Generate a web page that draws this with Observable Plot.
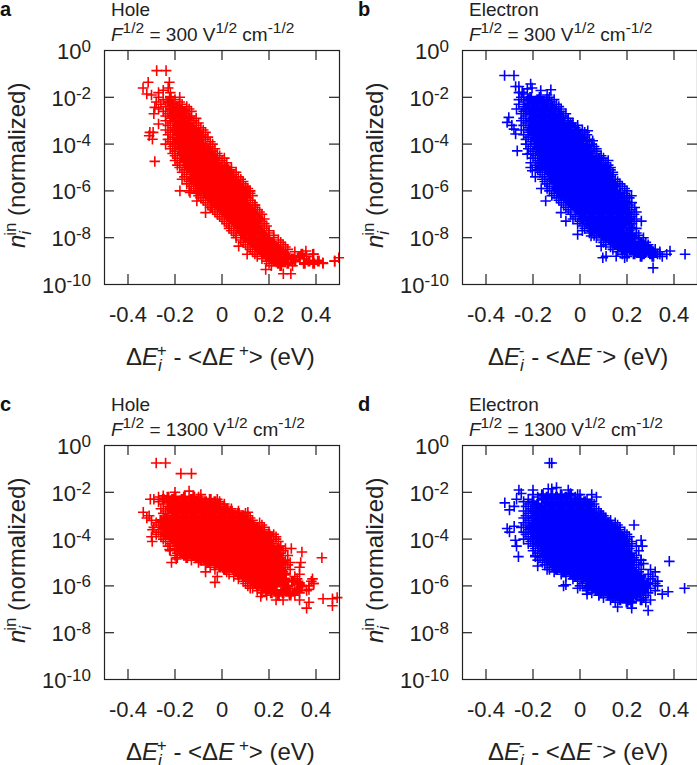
<!DOCTYPE html>
<html><head><meta charset="utf-8">
<script src="https://cdn.jsdelivr.net/npm/d3@7"></script>
<script src="https://cdn.jsdelivr.net/npm/@observablehq/plot@0.6"></script>
<style>html,body{margin:0;padding:0;background:#fff;overflow:hidden}#root{position:relative;width:697px;height:765px;overflow:hidden}#root>div{position:absolute}svg{overflow:visible;display:block}</style>
</head><body><div id="root"></div>
<script>
const xTicks=[-.4,-.2,0,.2,.4];
const yExponents=[0,-2,-4,-6,-8,-10];
const yInnerExponents=[-2,-4,-6,-8];
// rows: [log10(y), x, x, ...]; *Out: [x, log10(y)] stray points
const holeLow=[
[-2,-.27,-.22,-.18],[-2.1,-.25,-.2],[-2.2,-.28,-.23,-.18],[-2.3,-.26,-.21,-.17],[-2.4,-.24,-.19,-.15],
[-2.5,-.27,-.22,-.18,-.14],[-2.6,-.25,-.2,-.16,-.13],[-2.7,-.23,-.19,-.15],[-2.8,-.24,-.21,-.17,-.13],[-2.9,-.22,-.18,-.14,-.11],
[-3,-.24,-.2,-.16,-.12],[-3.1,-.22,-.18,-.14,-.1],[-3.2,-.23,-.19,-.15,-.11],[-3.3,-.21,-.17,-.13,-.09],[-3.4,-.24,-.2,-.16,-.12,-.08],
[-3.5,-.22,-.18,-.14,-.1,-.07],[-3.6,-.23,-.19,-.15,-.11,-.08],[-3.7,-.21,-.17,-.13,-.09,-.06],[-3.8,-.23,-.19,-.15,-.11,-.07],[-3.9,-.22,-.18,-.14,-.1,-.05],
[-4,-.24,-.2,-.16,-.12,-.08,-.04],[-4.1,-.21,-.17,-.13,-.09,-.05],[-4.2,-.22,-.18,-.14,-.1,-.06,-.03],[-4.3,-.2,-.16,-.12,-.08,-.04],[-4.4,-.21,-.17,-.13,-.09,-.05,-.02],
[-4.5,-.2,-.16,-.12,-.08,-.04,-.01],[-4.6,-.19,-.15,-.11,-.07,-.03,.01],[-4.7,-.2,-.16,-.12,-.08,-.04,0],[-4.8,-.18,-.14,-.1,-.06,-.02,.02],[-4.9,-.19,-.15,-.11,-.07,-.03,.01],
[-5,-.18,-.14,-.1,-.06,-.02,.02,.04],[-5.1,-.16,-.12,-.08,-.04,0,.04],[-5.2,-.17,-.13,-.09,-.05,-.01,.03,.06],[-5.3,-.15,-.11,-.07,-.03,.01,.05],[-5.4,-.16,-.12,-.08,-.04,0,.04,.07],
[-5.5,-.17,-.13,-.09,-.05,-.01,.03,.08],[-5.6,-.14,-.1,-.06,-.02,.02,.06,.09],[-5.7,-.15,-.11,-.07,-.03,.01,.05,.09],[-5.8,-.13,-.09,-.05,-.01,.03,.07,.1],[-5.9,-.12,-.08,-.04,0,.04,.08,.11],
[-6,-.14,-.1,-.06,-.02,.02,.06,.1,.12],[-6.1,-.11,-.07,-.03,.01,.05,.09,.12],[-6.2,-.1,-.06,-.02,.02,.06,.1,.13],[-6.3,-.09,-.05,-.01,.03,.07,.11],[-6.4,-.08,-.04,0,.04,.08,.12],
[-6.5,-.07,-.03,.01,.05,.09,.13],[-6.6,-.06,-.02,.02,.06,.1,.14],[-6.7,-.05,-.01,.03,.07,.11,.14],[-6.8,-.04,0,.04,.08,.12,.15],[-6.9,-.03,.01,.05,.09,.13,.16],
[-7,-.02,.02,.06,.1,.14,.17],[-7.1,-.01,.03,.07,.11,.15],[-7.2,0,.04,.08,.12,.16,.18],[-7.3,.01,.05,.09,.13,.17],[-7.4,.02,.06,.1,.14,.18],
[-7.5,.03,.07,.11,.15,.19],[-7.6,.03,.07,.11,.15,.18],[-7.7,.04,.08,.12,.16,.2],[-7.8,.05,.09,.13,.17,.2],[-7.9,.06,.1,.14,.18,.22],
[-8,.06,.1,.14,.18,.22],[-8.1,.08,.12,.16,.2,.24],[-8.2,.09,.13,.17,.21,.25],[-8.3,.1,.14,.18,.22,.26],[-8.4,.11,.15,.19,.23,.27],
[-8.5,.12,.16,.2,.24,.28],[-8.6,.13,.17,.21,.25,.31],[-8.7,.14,.18,.22,.27,.34,.39],[-8.8,.15,.19,.23,.28,.33,.36],[-8.9,.17,.21,.25,.3,.35],
[-9,.19,.22,.26,.31,.37,.41,.48],[-9.1,.2,.24,.28,.35,.39,.43],[-9.2,.21,.25,.3]
];
const holeLowOut=[[-.278,-.86],[-.238,-.86],[-.314,-1.36],[-.224,-1.36],[-.336,-1.6],[-.229,-1.6],[-.32,-1.86],[-.25,-1.7],[-.27,-1.8],[-.22,-1.8],[-.3,-1.9],[-.286,-4.74],[-.179,-6],[-.307,-3.5],[-.293,-3.5],[-.296,-3.79],[-.31,-3.64],[-.27,-3.14],[-.286,-2.43],[-.29,-2.7],[-.107,-6.43],[-.07,-6.93],[-.043,-6.71],[-.136,-6.07],[.186,-9.36],[.261,-9.54],[.293,-9.54],[.497,-8.86],[.479,-9],[.429,-9.07],[.357,-8.57],[.386,-8.71],[.071,-8.36],[.107,-8.71],[.115,-6],[.14,-6.6]];
const electronLow=[
[-2,-.25,-.21,-.17,-.13],[-2.1,-.26,-.22,-.18,-.14,-.11],[-2.2,-.24,-.2,-.16,-.12],[-2.3,-.26,-.22,-.18,-.14,-.1],[-2.4,-.24,-.2,-.16,-.12,-.09],
[-2.5,-.27,-.23,-.19,-.15,-.11,-.08],[-2.6,-.24,-.2,-.16,-.12,-.08],[-2.7,-.25,-.21,-.17,-.13,-.09,-.06],[-2.8,-.23,-.19,-.15,-.11,-.07],[-2.9,-.24,-.2,-.16,-.12,-.08,-.05],
[-3,-.25,-.21,-.17,-.13,-.09,-.05],[-3.1,-.23,-.19,-.15,-.11,-.07,-.04],[-3.2,-.24,-.2,-.16,-.12,-.08,-.04,-.01],[-3.3,-.22,-.18,-.14,-.1,-.06,-.02],[-3.4,-.25,-.21,-.17,-.13,-.09,-.05,-.01,.01],
[-3.5,-.22,-.18,-.14,-.1,-.06,-.02,.02],[-3.6,-.24,-.2,-.16,-.12,-.08,-.04,0,.03],[-3.7,-.22,-.18,-.14,-.1,-.06,-.02,.02],[-3.8,-.23,-.19,-.15,-.11,-.07,-.03,.01,.04],[-3.9,-.21,-.17,-.13,-.09,-.05,-.01,.03],
[-4,-.23,-.19,-.15,-.11,-.07,-.03,.01,.05],[-4.1,-.21,-.17,-.13,-.09,-.05,-.01,.03,.06],[-4.2,-.22,-.18,-.14,-.1,-.06,-.02,.02,.06],[-4.3,-.2,-.16,-.12,-.08,-.04,0,.04,.07],[-4.4,-.21,-.17,-.13,-.09,-.05,-.01,.03,.07],
[-4.5,-.19,-.15,-.11,-.07,-.03,.01,.05,.09],[-4.6,-.2,-.16,-.12,-.08,-.04,0,.04,.08,.1],[-4.7,-.18,-.14,-.1,-.06,-.02,.02,.06,.1],[-4.8,-.21,-.17,-.13,-.09,-.05,-.01,.03,.07,.11],[-4.9,-.19,-.15,-.11,-.07,-.03,.01,.05,.09,.12],
[-5,-.21,-.17,-.13,-.09,-.05,-.01,.03,.07,.11,.13],[-5.1,-.18,-.14,-.1,-.06,-.02,.02,.06,.1,.13],[-5.2,-.17,-.13,-.09,-.05,-.01,.03,.07,.11,.14],[-5.3,-.16,-.12,-.08,-.04,0,.04,.08,.12,.14],[-5.4,-.15,-.11,-.07,-.03,.01,.05,.09,.13],
[-5.5,-.16,-.12,-.08,-.04,0,.04,.08,.12,.15],[-5.6,-.15,-.11,-.07,-.03,.01,.05,.09,.13,.16],[-5.7,-.14,-.1,-.06,-.02,.02,.06,.1,.14,.17],[-5.8,-.13,-.09,-.05,-.01,.03,.07,.11,.15,.18],[-5.9,-.14,-.1,-.06,-.02,.02,.06,.1,.14,.19],
[-6,-.13,-.09,-.05,-.01,.03,.07,.11,.15,.2],[-6.1,-.11,-.07,-.03,.01,.05,.09,.13,.17,.19],[-6.2,-.12,-.08,-.04,0,.04,.08,.12,.16,.2],[-6.3,-.1,-.06,-.02,.02,.06,.1,.14,.18,.21],[-6.4,-.09,-.05,-.01,.03,.07,.11,.15,.19],
[-6.5,-.08,-.04,0,.04,.08,.12,.16,.2,.22],[-6.6,-.07,-.03,.01,.05,.09,.13,.17,.21],[-6.7,-.06,-.02,.02,.06,.1,.14,.18,.21],[-6.8,-.05,-.01,.03,.07,.11,.15,.19,.22],[-6.9,-.04,0,.04,.08,.12,.16,.2,.24],
[-7,-.04,0,.04,.08,.12,.16,.2,.23],[-7.1,-.02,.02,.06,.1,.14,.18,.22],[-7.2,-.03,.01,.05,.09,.13,.17,.21,.24],[-7.3,0,.04,.08,.12,.16,.2,.23],[-7.4,-.01,.03,.07,.11,.15,.19,.22],
[-7.5,.01,.05,.09,.13,.17,.21],[-7.6,.02,.06,.1,.14,.18,.22,.24],[-7.7,.01,.05,.09,.13,.17,.21],[-7.8,.04,.08,.12,.16,.2,.24],[-7.9,.06,.1,.14,.18,.22,.25],
[-8,.07,.11,.15,.19,.23,.27],[-8.1,.09,.13,.17,.21,.25],[-8.2,.1,.14,.18,.22,.26,.28],[-8.3,.11,.15,.19,.23,.27,.29],[-8.4,.13,.17,.21,.25,.29],
[-8.5,.14,.18,.22,.26,.3,.32],[-8.6,.16,.2,.24,.28,.31,.34],[-8.7,.18,.23,.27,.3,.33],[-8.8,.2,.26,.31,.35]
];
const electronLowOut=[[-.321,-1.07],[-.281,-1.07],[-.26,-1.54],[-.274,-1.54],[-.21,-1.43],[-.224,-1.64],[-.204,-1.6],[-.124,-1.68],[-.167,-1.71],[-.246,-1.79],[-.239,-1.86],[-.26,-1.8],[-.14,-1.9],[-.303,-2.86],[-.31,-3.07],[-.281,-3.36],[-.274,-3.57],[-.29,-3.2],[-.267,-4.29],[-.224,-4.43],[-.203,-5.14],[-.19,-5.4],[-.146,-6.43],[-.165,-5.9],[-.081,-6.93],[-.06,-7.29],[-.01,-7.86],[.047,-7.93],[.09,-8.36],[.097,-8.86],[.111,-8.79],[.154,-8.79],[.19,-8.86],[.311,-9.29],[.383,-8.57],[.369,-8.71],[.447,-8.71],[.34,-8.71],[.261,-7.29],[.219,-6.21],[.233,-6.71],[.033,-3.43],[.054,-3.86],[-.05,-3],[-.03,-3.1],[.07,-4.2],[.12,-4.7]];
const holeHigh=[
[-2.2,-.27,-.23,-.2,-.16,-.12,-.1],[-2.3,-.29,-.25,-.21,-.17,-.13,-.09,-.05,-.02],[-2.4,-.27,-.23,-.19,-.15,-.11,-.07,-.03,-.01],[-2.5,-.25,-.21,-.17,-.13,-.09,-.05,-.01,.01],[-2.6,-.23,-.19,-.15,-.11,-.07,-.03,.01],
[-2.7,-.26,-.22,-.18,-.14,-.1,-.06,-.02,.02,.04],[-2.8,-.24,-.2,-.16,-.12,-.08,-.04,0,.04,.07],[-2.9,-.25,-.21,-.17,-.13,-.09,-.05,-.01,.03,.07,.1],[-3,-.23,-.19,-.15,-.11,-.07,-.03,.01,.05,.09,.11],[-3.1,-.32,-.24,-.2,-.16,-.12,-.08,-.04,0,.04,.08,.12],
[-3.2,-.3,-.26,-.22,-.18,-.14,-.1,-.06,-.02,.02,.06,.1,.13],[-3.3,-.28,-.24,-.2,-.16,-.12,-.08,-.04,0,.04,.08,.12,.16],[-3.4,-.27,-.23,-.19,-.15,-.11,-.07,-.03,.01,.05,.09,.13,.17],[-3.5,-.29,-.25,-.21,-.17,-.13,-.09,-.05,-.01,.03,.07,.11,.15,.18],[-3.6,-.26,-.22,-.18,-.14,-.1,-.06,-.02,.02,.06,.1,.14,.18],
[-3.7,-.27,-.23,-.19,-.15,-.11,-.07,-.03,.01,.05,.09,.13,.17,.2],[-3.8,-.28,-.24,-.2,-.16,-.12,-.08,-.04,0,.04,.08,.12,.16,.2,.22],[-3.9,-.26,-.22,-.18,-.14,-.1,-.06,-.02,.02,.06,.1,.14,.18,.21],[-4,-.25,-.21,-.17,-.13,-.09,-.05,-.01,.03,.07,.11,.15,.19,.23],[-4.1,-.24,-.2,-.16,-.12,-.08,-.04,0,.04,.08,.12,.16,.2,.24],
[-4.2,-.22,-.18,-.14,-.1,-.06,-.02,.02,.06,.1,.14,.18,.22],[-4.3,-.23,-.19,-.15,-.11,-.07,-.03,.01,.05,.09,.13,.17,.21,.25],[-4.4,-.2,-.16,-.12,-.08,-.04,0,.04,.08,.12,.16,.2,.24,.27],[-4.5,-.22,-.18,-.14,-.1,-.06,-.02,.02,.06,.1,.14,.18,.22,.26],[-4.6,-.19,-.15,-.11,-.07,-.03,.01,.05,.09,.13,.17,.21,.25],
[-4.7,-.2,-.16,-.12,-.08,-.04,0,.04,.08,.12,.16,.2,.24,.28],[-4.8,-.19,-.15,-.11,-.07,-.03,.01,.05,.09,.13,.17,.21,.25],[-4.9,-.13,-.09,-.05,-.01,.03,.07,.11,.15,.19,.23,.27],[-5,-.1,-.06,-.02,.02,.06,.1,.14,.18,.22,.26,.29],[-5.1,-.07,-.03,.01,.05,.09,.13,.17,.21,.25,.28],
[-5.2,-.05,-.01,.03,.07,.11,.15,.19,.23,.27],[-5.3,-.03,.01,.05,.09,.13,.17,.21,.25,.29],[-5.4,.02,.06,.1,.14,.18,.22,.26],[-5.5,.03,.07,.11,.15,.19,.23,.27,.33],[-5.6,.05,.09,.13,.17,.21,.25,.31],
[-5.7,.07,.11,.15,.19,.23,.27,.32],[-5.8,.09,.13,.17,.21,.25,.3,.38],[-5.9,.1,.14,.18,.22,.26,.33,.39],[-6,.11,.15,.19,.23,.28,.34,.37],[-6.1,.13,.17,.21,.27,.31],
[-6.2,.15,.19,.23,.27,.32,.36],[-6.3,.17,.21,.26,.29,.33],[-6.4,.19,.24,.29,.31]
];
const holeHighOut=[[-.28,-.75],[-.24,-.75],[-.175,-1.2],[-.13,-1.2],[-.305,-2.3],[-.25,-2.15],[-.2,-2],[-.14,-1.95],[-.09,-2.1],[-.335,-2.85],[-.31,-3],[-.296,-3.6],[-.3,-3.9],[-.297,-4.1],[-.223,-4.45],[-.195,-4.85],[-.215,-5],[-.07,-5.4],[-.02,-5.6],[-.03,-5.85],[.12,-6.1],[.295,-4.4],[.34,-4.55],[.335,-5],[.425,-4.8],[.33,-5.2],[.385,-5.7],[.39,-5.9],[.37,-6.15],[.23,-6.6],[.26,-6.6],[.165,-6.45],[.33,-6.6],[.37,-6.7],[.36,-6.95],[.43,-6.55],[.47,-6.55],[.47,-6.85],[.49,-6.5],[.11,-2.85],[.23,-3.9]];
const electronHigh=[
[-2.1,-.2,-.16,-.12,-.08,-.04,-.01],[-2.2,-.18,-.14,-.1,-.06,-.02],[-2.3,-.22,-.16,-.12,-.08,-.04,0,.03],[-2.4,-.24,-.2,-.14,-.1,-.06,-.02,.02,.05],[-2.5,-.22,-.18,-.12,-.08,-.04,0,.04,.06],
[-2.6,-.23,-.19,-.15,-.11,-.07,-.03,.01,.05],[-2.7,-.21,-.17,-.13,-.09,-.05,-.01,.03,.07],[-2.8,-.24,-.2,-.16,-.12,-.08,-.04,0,.04,.08],[-2.9,-.22,-.18,-.14,-.1,-.06,-.02,.02,.06,.09],[-3,-.23,-.19,-.15,-.11,-.07,-.03,.01,.05,.09,.1],
[-3.1,-.24,-.2,-.16,-.12,-.08,-.04,0,.04,.08,.11],[-3.2,-.22,-.18,-.14,-.1,-.06,-.02,.02,.06,.1,.13],[-3.3,-.24,-.2,-.16,-.12,-.08,-.04,0,.04,.08,.12,.15],[-3.4,-.23,-.19,-.15,-.11,-.07,-.03,.01,.05,.09,.13,.16],[-3.5,-.25,-.21,-.17,-.13,-.09,-.05,-.01,.03,.07,.11,.15,.17],
[-3.6,-.22,-.18,-.14,-.1,-.06,-.02,.02,.06,.1,.14,.17],[-3.7,-.24,-.2,-.16,-.12,-.08,-.04,0,.04,.08,.12,.16,.19],[-3.8,-.23,-.19,-.15,-.11,-.07,-.03,.01,.05,.09,.13,.17,.2],[-3.9,-.22,-.18,-.14,-.1,-.06,-.02,.02,.06,.1,.14,.18,.21],[-4,-.24,-.2,-.16,-.12,-.08,-.04,0,.04,.08,.12,.16,.2],
[-4.1,-.21,-.17,-.13,-.09,-.05,-.01,.03,.07,.11,.15,.19,.22],[-4.2,-.22,-.18,-.14,-.1,-.06,-.02,.02,.06,.1,.14,.18,.22],[-4.3,-.2,-.16,-.12,-.08,-.04,0,.04,.08,.12,.16,.2,.24],[-4.4,-.19,-.15,-.11,-.07,-.03,.01,.05,.09,.13,.17,.21],[-4.5,-.2,-.16,-.12,-.08,-.04,0,.04,.08,.12,.16,.2,.25],
[-4.6,-.18,-.14,-.1,-.06,-.02,.02,.06,.1,.14,.18,.22],[-4.7,-.19,-.15,-.11,-.07,-.03,.01,.05,.09,.13,.17,.21,.24],[-4.8,-.17,-.13,-.09,-.05,-.01,.03,.07,.11,.15,.19,.23],[-4.9,-.18,-.14,-.1,-.06,-.02,.02,.06,.1,.14,.18,.22,.26],[-5,-.16,-.12,-.08,-.04,0,.04,.08,.12,.16,.2,.24],
[-5.1,-.15,-.11,-.07,-.03,.01,.05,.09,.13,.17,.21,.25],[-5.2,-.13,-.09,-.05,-.01,.03,.07,.11,.15,.19,.23],[-5.3,-.14,-.1,-.06,-.02,.02,.06,.1,.14,.18,.22,.26],[-5.4,-.11,-.07,-.03,.01,.05,.09,.13,.17,.21,.25],[-5.5,-.08,-.04,0,.04,.08,.12,.16,.2,.24,.29],
[-5.6,-.06,-.02,.02,.06,.1,.14,.18,.22,.26,.31],[-5.7,-.03,.01,.05,.09,.13,.17,.21,.25,.3],[-5.8,-.01,.03,.07,.11,.15,.19,.23,.27,.33],[-5.9,.01,.05,.09,.13,.17,.21,.25,.29,.32],[-6,0,.04,.08,.12,.16,.2,.24,.28,.33],
[-6.1,-.01,.03,.07,.11,.15,.19,.23,.27,.3],[-6.2,.03,.07,.11,.15,.19,.23,.27,.32],[-6.3,.05,.09,.13,.17,.21,.25,.29],[-6.4,.08,.12,.16,.2,.24,.28],[-6.5,.1,.14,.18,.22,.27],
[-6.6,.13,.17,.21,.26,.3],[-6.7,.15,.2,.22,.28]
];
const electronHighOut=[[-.13,-.75],[-.12,-.75],[-.26,-1.9],[-.25,-2.05],[-.2,-1.9],[-.135,-1.85],[-.12,-1.85],[-.1,-1.8],[-.05,-1.9],[-.04,-2.05],[0,-2.1],[-.32,-2.45],[-.3,-2.75],[-.27,-2.3],[-.28,-2.6],[-.31,-3.55],[-.3,-3.7],[-.28,-3.45],[-.275,-4.05],[-.27,-4.3],[-.262,-4.75],[-.19,-4.75],[-.18,-5.15],[-.13,-5.3],[-.06,-5.95],[-.07,-6],[.23,-3.4],[.26,-4.05],[.265,-4.3],[.26,-4.9],[.27,-5.05],[.38,-4.95],[.32,-5.4],[.3,-5.3],[.33,-5.8],[.35,-6.35],[.375,-6.25],[.445,-6.1],[.29,-7.05],[.16,-6.9],[.22,-6.95],[.03,-6.35],[.08,-6.4],[.05,-2.1],[.07,-2.2]];
const xLabelHole=[["Δ"],["E",{i:1}],["i",{i:1,s:17,r:-6}],["+",{s:17,r:9,dx:-5}],[" - <Δ"],["E",{i:1}],[" +",{s:17,r:9}],["> (eV)"]];
const xLabelElectron=[["Δ"],["E",{i:1}],["i",{i:1,s:17,r:-6}],["-",{s:17,r:9,dx:-5}],[" - <Δ"],["E",{i:1}],[" -",{s:17,r:9}],["> (eV)"]];
const yLabel=[["n",{i:1}],["i",{i:1,s:17,r:-6}],["in",{s:17,r:9,dx:-5}],[" (normalized)"]];
const field=f=>[["F",{i:1}],["1/2",{s:15.5,r:8}],[` = ${f} V`],["1/2",{s:15.5,r:8}],[" cm"],["-1/2",{s:15.5,r:8}]];
const W0=104,H0=50,H1=284;
function seg(g,parts,x,y,size,transform){
  const t=g.append("text").attr("x",x).attr("y",y).attr("font-size",size).attr("fill","#222").attr("text-anchor","start").style("white-space","pre");
  if(transform)t.attr("transform",transform);
  let rise=0;
  for(const [s,o={}] of parts){
    const r=o.r||0,sp=t.append("tspan").text(s).attr("dy",rise-r).attr("font-size",o.s||size);
    if(o.dx)sp.attr("dx",o.dx);
    if(o.i)sp.attr("font-style","italic");
    rise=r;
  }
}
function panel({left,top,w,rows,out,color,letter,kind,f,xLabel,xLabelX}){
  const thin=[],core=[];
  rows.forEach(([l,...xs])=>xs.forEach((x,i)=>(i===0||i===xs.length-1?thin:core).push({x,y:10**l})));
  out.forEach(([x,l])=>thin.push({x,y:10**l}));
  const inner=yInnerExponents.map(e=>10**e);
  const svg=Plot.plot({width:w,height:370,marginLeft:W0,marginRight:w-339,marginTop:H0,marginBottom:370-H1,
    style:{fontFamily:"Liberation Sans, Arial, sans-serif",background:"transparent",overflow:"visible"},
    x:{domain:[-.5,.5],axis:null},y:{type:"log",domain:[1e-10,1],axis:null},
    marks:[
      Plot.dot(thin,{x:"x",y:"y",symbol:"plus",r:3.5,stroke:color,strokeWidth:1.6}),
      Plot.dot(core,{x:"x",y:"y",symbol:"plus",r:3.5,stroke:color,strokeWidth:3}),
      Plot.frame({stroke:"#222",strokeWidth:1.2}),
      Plot.ruleX(xTicks,{insetTop:224,stroke:"#222",strokeWidth:1.2}),
      Plot.ruleX(xTicks,{insetBottom:224,stroke:"#222",strokeWidth:1.2}),
      Plot.ruleY(inner,{insetRight:225,stroke:"#222",strokeWidth:1.2}),
      Plot.ruleY(inner,{insetLeft:225,stroke:"#222",strokeWidth:1.2}),
      Plot.axisX(xTicks,{anchor:"bottom",tickSize:0,tickPadding:22,fontSize:22,fill:"#222",tickFormat:d=>d===0?"0":d.toFixed(1),label:null}),
      Plot.axisY(yExponents.map(e=>10**e),{anchor:"left",tickSize:0,tickPadding:13.5,fontSize:22,fill:"#222",tickFormat:d=>"10|"+Math.round(Math.log10(d)),label:null,dy:1.5})
    ]});
  const g=d3.select(svg);
  g.selectAll("text").filter(function(){return this.textContent.includes("|")}).each(function(){
    const [b,e]=this.textContent.split("|"),el=d3.select(this);
    el.text("");
    el.append("tspan").text(b);
    el.append("tspan").text(e).attr("font-size",17).attr("dy",-7);
  });
  const o=g.append("g");
  o.append("text").text(letter).attr("x",0).attr("y",16).attr("text-anchor","start").attr("font-size",20).attr("font-weight","bold").attr("fill","#111");
  o.append("text").text(kind).attr("x",111).attr("y",16).attr("text-anchor","start").attr("font-size",19).attr("fill","#222");
  seg(o,field(f),111,40.7,19);
  seg(o,xLabel,xLabelX,365,24);
  seg(o,yLabel,0,0,24,"translate(25,248) rotate(-90)");
  const d=document.createElement("div");d.style.left=left+"px";d.style.top=top+"px";d.append(svg);
  document.getElementById("root").append(d);
}
panel({left:0,top:0,w:339,rows:holeLow,out:holeLowOut,color:"#ff0000",letter:"a",kind:"Hole",f:300,xLabel:xLabelHole,xLabelX:126});
panel({left:358,top:0,w:339,rows:electronLow,out:electronLowOut,color:"#0000ff",letter:"b",kind:"Electron",f:300,xLabel:xLabelElectron,xLabelX:130});
panel({left:0,top:395,w:339,rows:holeHigh,out:holeHighOut,color:"#ff0000",letter:"c",kind:"Hole",f:1300,xLabel:xLabelHole,xLabelX:126});
panel({left:358,top:395,w:339,rows:electronHigh,out:electronHighOut,color:"#0000ff",letter:"d",kind:"Electron",f:1300,xLabel:xLabelElectron,xLabelX:130});
</script></body></html>
